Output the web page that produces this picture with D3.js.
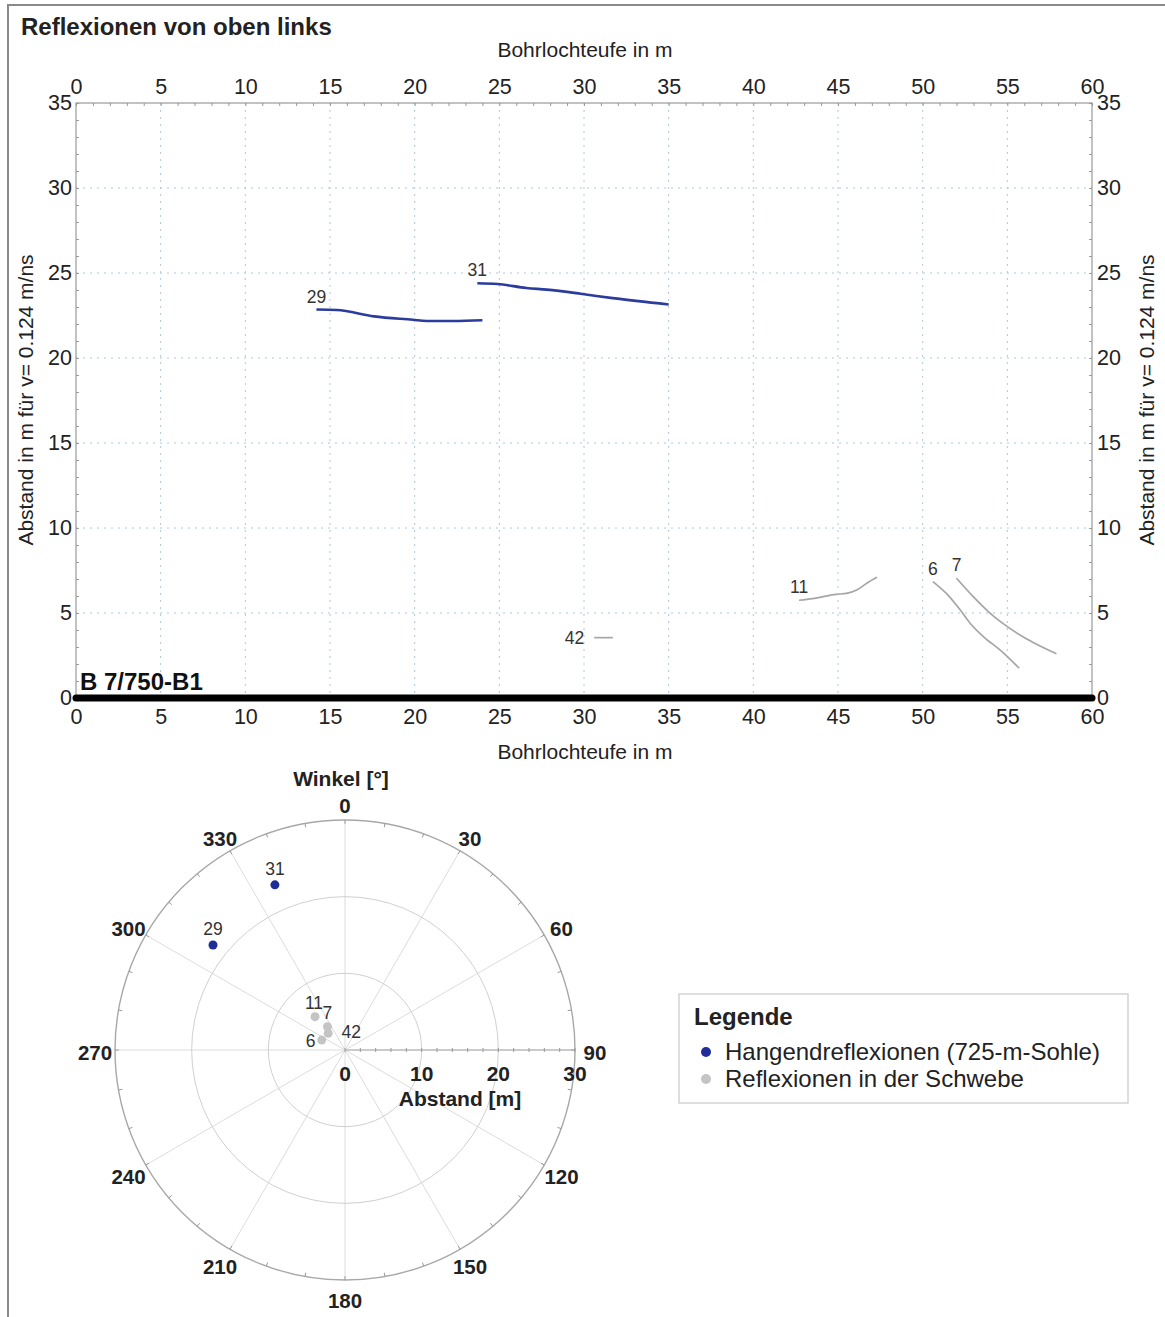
<!DOCTYPE html>
<html>
<head>
<meta charset="utf-8">
<script src="https://cdn.jsdelivr.net/npm/d3@7"></script>
<style>
  body { margin: 0; background: #fff; }
  svg { display: block; font-family: "Liberation Sans", Arial, sans-serif; }
</style>
</head>
<body>
<script>
// axis ticks
const depthTicks = [0, 5, 10, 15, 20, 25, 30, 35, 40, 45, 50, 55, 60];
const distTicks = [0, 5, 10, 15, 20, 25, 30, 35];
const angleTicks = [0, 30, 60, 90, 120, 150, 180, 210, 240, 270, 300, 330];
const radialTicks = [0, 10, 20, 30];

// reflection traces (depth in m, distance in m)
const reflIds = ["29", "31", "11", "6", "7", "42"];
const reflGroup = ["hang", "hang", "schwebe", "schwebe", "schwebe", "schwebe"];
const depth29 = [14.2, 15.4, 17.6, 19.9, 20.7, 22.3, 24.0];
const dist29 = [22.85, 22.82, 22.45, 22.25, 22.18, 22.18, 22.22];
const depth31 = [23.7, 24.9, 26.6, 27.8, 29.8, 31.7, 35.0];
const dist31 = [24.4, 24.35, 24.12, 24.02, 23.78, 23.52, 23.15];
const depth11 = [42.7, 43.5, 44.9, 45.5, 46.1, 46.7, 47.3];
const dist11 = [5.75, 5.85, 6.1, 6.15, 6.35, 6.75, 7.1];
const depth6 = [50.6, 51.4, 52.2, 52.8, 53.6, 54.6, 55.7];
const dist6 = [6.85, 6.15, 5.2, 4.4, 3.6, 2.8, 1.75];
const depth7 = [52.0, 53.0, 54.2, 55.0, 56.1, 57.9];
const dist7 = [7.05, 5.95, 4.8, 4.2, 3.5, 2.6];
const depth42 = [30.6, 31.7];
const dist42 = [3.55, 3.55];
const reflDepth = [depth29, depth31, depth11, depth6, depth7, depth42];
const reflDist = [dist29, dist31, dist11, dist6, dist7, dist42];

// polar diagram: angle in degrees, distance in m
const polarIds = ["31", "29", "11", "7", "42", "6"];
const polarGroup = ["hang", "hang", "schwebe", "schwebe", "schwebe", "schwebe"];
const polarAngle = [337, 308.5, 318, 323, 315, 293];
const polarDist = [23.4, 22.0, 5.85, 3.8, 3.1, 3.3];

const legendLabels = ["Hangendreflexionen (725-m-Sohle)", "Reflexionen in der Schwebe"];
const legendGroups = ["hang", "schwebe"];

const W = 1165, H = 1317;
const lineColor = { hang: "#2b3c9e", schwebe: "#a6a6a6" };
const dotColor = { hang: "#1f2d96", schwebe: "#c4c4c4" };
const textCol = "#222";

const svg = d3.select("body").append("svg").attr("width", W).attr("height", H);

// outer frame
svg.append("path")
  .attr("d", `M8,${H} V5 H${W}`)
  .attr("fill", "none").attr("stroke", "#8a8a8a").attr("stroke-width", 2);

svg.append("text")
  .attr("x", 21).attr("y", 35)
  .attr("font-size", 24).attr("font-weight", "bold").attr("fill", textCol)
  .text("Reflexionen von oben links");

// ---- depth section ----
const x = d3.scaleLinear().domain([0, 60]).range([76, 1092]);
const y = d3.scaleLinear().domain([0, 35]).range([698, 103]);

const grid = svg.append("g").attr("stroke", "#aac8dc").attr("stroke-dasharray", "2,5");
grid.selectAll("line.gx").data(depthTicks.slice(1, -1)).enter().append("line")
  .attr("x1", d => x(d)).attr("x2", d => x(d)).attr("y1", y(35)).attr("y2", y(0));
grid.selectAll("line.gy").data(distTicks.slice(1, -1)).enter().append("line")
  .attr("y1", d => y(d)).attr("y2", d => y(d)).attr("x1", x(0)).attr("x2", x(60));

svg.append("rect")
  .attr("x", x(0)).attr("y", y(35)).attr("width", x(60) - x(0)).attr("height", y(0) - y(35))
  .attr("fill", "none").attr("stroke", "#9a9a9a").attr("stroke-width", 1.2);

function styleAxis(g, size) {
  g.select(".domain").remove();
  g.selectAll("line").attr("stroke", "#999");
  g.selectAll("text").attr("font-size", size).attr("fill", textCol)
    .attr("font-family", "Liberation Sans, Arial, sans-serif");
}

// minor ticks (every 1 m)
const minorX = d3.range(0, 61, 1), minorY = d3.range(0, 36, 1);
svg.append("g").attr("transform", `translate(0,${y(35)})`)
  .call(d3.axisTop(x).tickValues(minorX).tickFormat("").tickSize(-3)).call(g => styleAxis(g, 0));
svg.append("g").attr("transform", `translate(${x(0)},0)`)
  .call(d3.axisLeft(y).tickValues(minorY).tickFormat("").tickSize(-3)).call(g => styleAxis(g, 0));
svg.append("g").attr("transform", `translate(${x(60)},0)`)
  .call(d3.axisRight(y).tickValues(minorY).tickFormat("").tickSize(-3)).call(g => styleAxis(g, 0));

// tick labels
svg.append("g").attr("transform", `translate(0,${y(35)})`)
  .call(d3.axisTop(x).tickValues(depthTicks).tickSize(0).tickPadding(9)).call(g => styleAxis(g, 21.5));
svg.append("g").attr("transform", `translate(0,${y(0)})`)
  .call(d3.axisBottom(x).tickValues(depthTicks).tickSize(0).tickPadding(11)).call(g => styleAxis(g, 21.5));
svg.append("g").attr("transform", `translate(${x(0)},0)`)
  .call(d3.axisLeft(y).tickValues(distTicks).tickSize(0).tickPadding(4)).call(g => styleAxis(g, 21.5));
svg.append("g").attr("transform", `translate(${x(60)},0)`)
  .call(d3.axisRight(y).tickValues(distTicks).tickSize(0).tickPadding(5)).call(g => styleAxis(g, 21.5));

svg.append("text").attr("x", 585).attr("y", 57).attr("text-anchor", "middle")
  .attr("font-size", 21).attr("fill", textCol).text("Bohrlochteufe in m");
svg.append("text").attr("x", 585).attr("y", 759).attr("text-anchor", "middle")
  .attr("font-size", 21).attr("fill", textCol).text("Bohrlochteufe in m");
const yTitle = "Abstand in m für v= 0.124 m/ns";
svg.append("text").attr("transform", "translate(33,400) rotate(-90)").attr("text-anchor", "middle")
  .attr("font-size", 21).attr("fill", textCol).text(yTitle);
svg.append("text").attr("transform", "translate(1154,400) rotate(-90)").attr("text-anchor", "middle")
  .attr("font-size", 21).attr("fill", textCol).text(yTitle);

// borehole
svg.append("line")
  .attr("x1", x(0)).attr("x2", x(60)).attr("y1", y(0)).attr("y2", y(0))
  .attr("stroke", "#000").attr("stroke-width", 7).attr("stroke-linecap", "round");
svg.append("text").attr("x", x(0) + 4).attr("y", y(0) - 8)
  .attr("font-size", 24).attr("font-weight", "bold").attr("fill", "#111").text("B 7/750-B1");

// reflection traces
const traces = reflIds.map((id, i) => ({
  id, group: reflGroup[i],
  pts: reflDepth[i].map((v, j) => [v, reflDist[i][j]])
}));
const traceLine = d3.line().x(p => x(p[0])).y(p => y(p[1])).curve(d3.curveMonotoneX);
svg.selectAll("path.trace").data(traces).enter().append("path")
  .attr("d", d => traceLine(d.pts))
  .attr("fill", "none")
  .attr("stroke", d => lineColor[d.group])
  .attr("stroke-width", d => d.group === "hang" ? 2.6 : 1.7);

// label placement relative to the first point
const traceLabelPos = { "42": [-10, 6, "end"] };
svg.selectAll("text.trace").data(traces).enter().append("text")
  .attr("x", d => x(d.pts[0][0]) + (traceLabelPos[d.id] ? traceLabelPos[d.id][0] : 0))
  .attr("y", d => y(d.pts[0][1]) + (traceLabelPos[d.id] ? traceLabelPos[d.id][1] : -7))
  .attr("text-anchor", d => traceLabelPos[d.id] ? traceLabelPos[d.id][2] : "middle")
  .attr("font-size", 17.5).attr("fill", "#333").text(d => d.id);

// ---- polar diagram ----
const cx = 345, cy = 1050;
const r = d3.scaleLinear().domain([0, 30]).range([0, 230]);
const pol = (a, d) => [cx + r(d) * Math.sin(a * Math.PI / 180), cy - r(d) * Math.cos(a * Math.PI / 180)];
const pg = svg.append("g");

pg.selectAll("line.spoke").data(angleTicks).enter().append("line")
  .attr("x1", cx).attr("y1", cy)
  .attr("x2", d => pol(d, 30)[0]).attr("y2", d => pol(d, 30)[1])
  .attr("stroke", "#dcdcdc").attr("stroke-width", 1);
pg.selectAll("circle.ring").data(radialTicks.slice(1)).enter().append("circle")
  .attr("cx", cx).attr("cy", cy).attr("r", d => r(d))
  .attr("fill", "none")
  .attr("stroke", d => d === 30 ? "#a8a8a8" : "#d0d0d0")
  .attr("stroke-width", d => d === 30 ? 1.4 : 1);
// ticks on the outer ring every 10 deg
pg.selectAll("line.rt").data(d3.range(0, 360, 10)).enter().append("line")
  .attr("x1", d => pol(d, 30)[0]).attr("y1", d => pol(d, 30)[1])
  .attr("x2", d => pol(d, 29.5)[0]).attr("y2", d => pol(d, 29.5)[1])
  .attr("stroke", "#999");
// radial axis along 90 deg
pg.append("line").attr("x1", cx).attr("x2", cx + r(30)).attr("y1", cy).attr("y2", cy)
  .attr("stroke", "#a8a8a8").attr("stroke-width", 1.2);
pg.selectAll("line.rax").data(d3.range(0, 31, 2)).enter().append("line")
  .attr("x1", d => cx + r(d)).attr("x2", d => cx + r(d)).attr("y1", cy - 2).attr("y2", cy + 2)
  .attr("stroke", "#999");
pg.selectAll("text.rax").data(radialTicks).enter().append("text")
  .attr("x", d => cx + r(d)).attr("y", cy + 31).attr("text-anchor", "middle")
  .attr("font-size", 21).attr("font-weight", "bold").attr("fill", textCol).text(d => d);
pg.append("text").attr("x", 460).attr("y", 1106).attr("text-anchor", "middle")
  .attr("font-size", 21).attr("font-weight", "bold").attr("fill", textCol).text("Abstand [m]");
pg.append("text").attr("x", 341).attr("y", 786).attr("text-anchor", "middle")
  .attr("font-size", 21).attr("font-weight", "bold").attr("fill", textCol).text("Winkel [°]");
pg.selectAll("text.ang").data(angleTicks).enter().append("text")
  .attr("x", d => cx + 250 * Math.sin(d * Math.PI / 180))
  .attr("y", d => cy - 247.5 * Math.cos(d * Math.PI / 180) + 10)
  .attr("text-anchor", "middle")
  .attr("font-size", 20.5).attr("font-weight", "bold").attr("fill", textCol).text(d => d);

const pts = polarIds.map((id, i) => ({ id, group: polarGroup[i], p: pol(polarAngle[i], polarDist[i]) }));
pg.selectAll("circle.pt").data(pts).enter().append("circle")
  .attr("cx", d => d.p[0]).attr("cy", d => d.p[1]).attr("r", 4.5)
  .attr("fill", d => dotColor[d.group]);
const ptLabelPos = { "6": [-11, 7], "42": [23, 5], "11": [-1, -8], "7": [0, -8] };
pg.selectAll("text.pt").data(pts).enter().append("text")
  .attr("x", d => d.p[0] + (ptLabelPos[d.id] ? ptLabelPos[d.id][0] : 0))
  .attr("y", d => d.p[1] + (ptLabelPos[d.id] ? ptLabelPos[d.id][1] : -10))
  .attr("text-anchor", "middle")
  .attr("font-size", 17.5).attr("fill", "#333").text(d => d.id);

// legend
const lg = svg.append("g");
lg.append("rect").attr("x", 679).attr("y", 994).attr("width", 449).attr("height", 109)
  .attr("fill", "#fff").attr("stroke", "#c8c8c8").attr("stroke-width", 1.2);
lg.append("text").attr("x", 694).attr("y", 1025).attr("font-size", 24).attr("font-weight", "bold")
  .attr("fill", textCol).text("Legende");
legendLabels.forEach((t, i) => {
  lg.append("circle").attr("cx", 706).attr("cy", 1052 + i * 27).attr("r", 5)
    .attr("fill", dotColor[legendGroups[i]]);
  lg.append("text").attr("x", 725).attr("y", 1060 + i * 27).attr("font-size", 24)
    .attr("fill", textCol).text(t);
});
</script>
</body>
</html>
